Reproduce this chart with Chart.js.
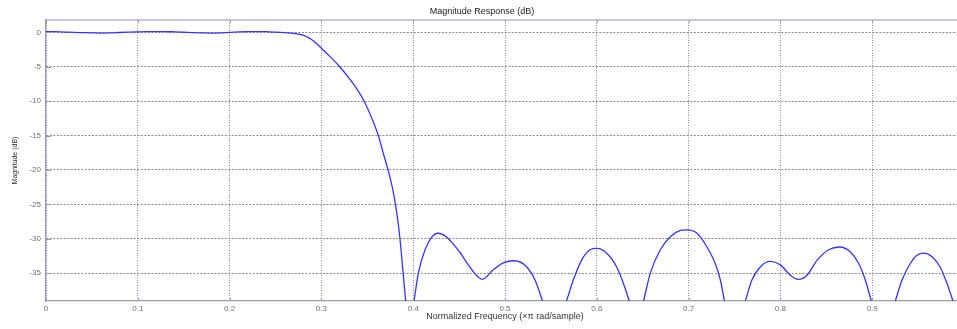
<!DOCTYPE html>
<html>
<head>
<meta charset="utf-8">
<title>Magnitude Response (dB)</title>
<script src="https://cdn.jsdelivr.net/npm/chart.js@4.4.1/dist/chart.umd.min.js"></script>
<style>
    html, body { margin: 0; padding: 0; background: #ffffff; overflow: hidden; }
    #wrap { position: relative; width: 1008px; height: 329px; }
</style>
</head>
<body>
<div id="wrap"><canvas id="magChart"></canvas></div>
<script>
// ============================================
// FILTER MAGNITUDE RESPONSE
// ============================================

// Normalized frequency (x pi rad/sample)
var freqPoints = [
    0, 0.01, 0.02, 0.03, 0.04, 0.05, 0.06, 0.07, 0.08, 0.09,
    0.10, 0.11, 0.12, 0.13, 0.14, 0.15, 0.16, 0.17, 0.18, 0.19,
    0.20, 0.21, 0.22, 0.23, 0.24, 0.25, 0.26, 0.27, 0.28, 0.29,
    0.30, 0.31, 0.32, 0.3348, 0.3457, 0.3548, 0.362, 0.3675, 0.373, 0.378,
    0.3825, 0.3856, 0.3885, 0.3918,
    0.396,
    0.4009, 0.4056, 0.4129, 0.420, 0.427, 0.436, 0.451, 0.460, 0.4753, 0.4873,
    0.4982, 0.510, 0.5237, 0.5327, 0.541,
    0.554,
    0.567, 0.5744, 0.5835, 0.5926, 0.6006, 0.6108, 0.6217, 0.629, 0.6354,
    0.643,
    0.651, 0.6583, 0.6692, 0.680, 0.691, 0.698, 0.7092, 0.720, 0.729, 0.7346, 0.739,
    0.750,
    0.7618, 0.769, 0.778, 0.789, 0.800, 0.8108, 0.8192, 0.829, 0.840, 0.8526,
    0.8646, 0.876, 0.8853, 0.8925, 0.899,
    0.912,
    0.9252, 0.9325, 0.9415, 0.9488, 0.956, 0.9652, 0.974, 0.9815, 0.988
];

// Magnitude in dB (null = below the visible range)
var magnitudeDb = [
    0.1, 0.1, 0.05, 0, -0.03, -0.06, -0.1, -0.08, -0.02, 0.03,
    0.07, 0.1, 0.12, 0.12, 0.08, 0.02, -0.04, -0.08, -0.1, -0.07,
    0, 0.06, 0.1, 0.12, 0.1, 0.03, -0.05, -0.15, -0.4, -1.1,
    -2.3, -3.6, -5.0, -7.5, -9.8, -12.45, -15.0, -17.6, -20.2, -23.0,
    -26.6, -30.0, -34.2, -39.05,
    null,
    -39.05, -35.0, -31.6, -29.8, -29.2, -29.7, -32.0, -33.8, -35.9, -34.5,
    -33.5, -33.2, -34.1, -36.0, -39.05,
    null,
    -39.05, -36.0, -33.1, -31.6, -31.4, -32.1, -34.1, -36.5, -39.05,
    null,
    -39.05, -35.0, -31.6, -29.7, -28.8, -28.7, -29.2, -31.2, -33.6, -36.0, -39.05,
    null,
    -39.05, -36.0, -34.1, -33.3, -33.8, -35.3, -35.9, -35.3, -33.1, -31.6,
    -31.2, -31.9, -33.6, -36.0, -39.05,
    null,
    -39.05, -36.0, -33.6, -32.4, -32.1, -32.6, -34.1, -36.5, -39.05
];

// Axis ticks
var xTickValues = [0, 0.1, 0.2, 0.3, 0.4, 0.5, 0.6, 0.7, 0.8, 0.9, 1];
var xTickLabels = ['0', '0.1', '0.2', '0.3', '0.4', '0.5', '0.6', '0.7', '0.8', '0.9', '1'];
var yTickValues = [0, -5, -10, -15, -20, -25, -30, -35];

var FONT = "'Liberation Sans', Arial, sans-serif";
var AXIS_COLOR = '#9a9aae';
var GRID_COLOR = '#8a8a8a';

// Top frame line and MATLAB-style inward tick marks
var frameTicks = {
    id: 'frameTicks',
    afterDraw: function(chart) {
        var ctx = chart.ctx;
        var area = chart.chartArea;
        var xs = chart.scales.x;
        var ys = chart.scales.y;
        ctx.save();
        ctx.strokeStyle = '#b6b6c8';
        ctx.lineWidth = 1.3;
        ctx.beginPath();
        ctx.moveTo(area.left, area.top);
        ctx.lineTo(area.right, area.top);
        ctx.stroke();

        ctx.strokeStyle = AXIS_COLOR;
        ctx.lineWidth = 1;
        ctx.beginPath();
        for (var i = 0; i < xTickValues.length; i++) {
            var px = Math.round(xs.getPixelForValue(xTickValues[i])) + 0.5;
            ctx.moveTo(px, area.bottom);
            ctx.lineTo(px, area.bottom - 3);
            ctx.moveTo(px, area.top);
            ctx.lineTo(px, area.top + 3);
        }
        for (var j = 0; j < yTickValues.length; j++) {
            var py = Math.round(ys.getPixelForValue(yTickValues[j])) + 0.5;
            ctx.moveTo(area.left, py);
            ctx.lineTo(area.left + 5, py);
        }
        ctx.stroke();
        ctx.restore();
    }
};

var points = [];
for (var k = 0; k < freqPoints.length; k++) {
    points.push({ x: freqPoints[k], y: magnitudeDb[k] });
}

var ctx = document.getElementById('magChart').getContext('2d');
var magChart = new Chart(ctx, {
    type: 'line',
    data: {
        datasets: [{
            label: 'Magnitude (dB)',
            data: points,
            borderColor: '#3535ff',
            borderWidth: 1.3,
            pointRadius: 0,
            cubicInterpolationMode: 'monotone',
            spanGaps: false,
            fill: false
        }]
    },
    options: {
        responsive: true,
        maintainAspectRatio: false,
        animation: false,
        layout: { padding: { left: 0, right: 44, top: 0, bottom: 0 } },
        plugins: {
            legend: { display: false },
            tooltip: { enabled: false },
            title: {
                display: true,
                text: 'Magnitude Response (dB)',
                color: '#222222',
                font: { family: FONT, size: 9, weight: 'normal', lineHeight: 1.2 },
                padding: { top: 6.6, bottom: 2.6 }
            }
        },
        scales: {
            x: {
                type: 'linear',
                min: 0,
                max: 1,
                afterFit: function(scale) { scale.height = 28; },
                afterBuildTicks: function(scale) {
                    scale.ticks = xTickValues.map(function(v) { return { value: v }; });
                },
                ticks: {
                    color: '#707070',
                    font: { family: FONT, size: 8 },
                    padding: 3,
                    maxRotation: 0,
                    autoSkip: false,
                    callback: function(value) {
                        var idx = xTickValues.indexOf(value);
                        return idx >= 0 ? xTickLabels[idx] : '';
                    }
                },
                grid: { color: GRID_COLOR, lineWidth: 1, drawTicks: false },
                border: { display: true, color: AXIS_COLOR, width: 1.3, dash: [1, 1.5] },
                title: {
                    display: true,
                    text: 'Normalized Frequency (\u00d7\u03c0 rad/sample)',
                    color: '#333333',
                    font: { family: FONT, size: 9, lineHeight: 1.2 },
                    padding: { top: 0, bottom: 6.6 }
                }
            },
            y: {
                type: 'linear',
                min: -39.05,
                max: 1.8,
                afterFit: function(scale) { scale.width = 46; },
                afterBuildTicks: function(scale) {
                    scale.ticks = yTickValues.map(function(v) { return { value: v }; });
                },
                ticks: {
                    color: '#707070',
                    font: { family: FONT, size: 8 },
                    padding: 5,
                    autoSkip: false
                },
                grid: { color: GRID_COLOR, lineWidth: 1, drawTicks: false },
                border: { display: true, color: AXIS_COLOR, width: 1.3, dash: [2, 1.5] },
                title: {
                    display: true,
                    text: 'Magnitude (dB)',
                    color: '#333333',
                    font: { family: FONT, size: 7, lineHeight: 1.2 },
                    padding: { top: 10.8, bottom: 0 }
                }
            }
        }
    },
    plugins: [frameTicks]
});
</script>
</body>
</html>
